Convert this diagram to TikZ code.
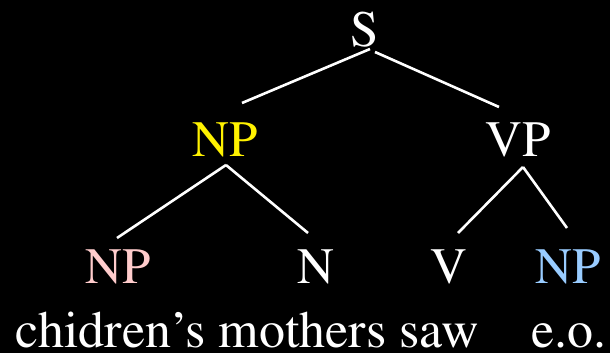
\documentclass[tikz,border=0pt]{standalone}
\usepackage[T1]{fontenc}
\usepackage{mathptmx}
\usepackage{xcolor}
\definecolor{pinkish}{RGB}{255,204,204}
\definecolor{skyblue}{RGB}{153,204,255}

\begin{document}
\begin{tikzpicture}[x=1pt, y=-1pt]
            \tikzstyle{cat} = [inner sep=0pt, anchor=base, text=white, font=\fontsize{51}{51}\selectfont]
            \tikzstyle{word} = [inner sep=0pt, anchor=base west, text=white, font=\fontsize{52}{52}\selectfont]
            \tikzstyle{branch} = [draw=white, line width=2.6pt]

            \fill[black] (0,0) rectangle (610,353);

            % category labels
            \node [cat] (s) at (365,47) {S};
            \node [cat, text=yellow] (np) at (225,156) {NP};
            \node [cat] (vp) at (518,156) {VP};
            \node [cat, text=pinkish] (poss) at (118,283) {NP};
            \node [cat] (n) at (316,283) {N};
            \node [cat] (v) at (449,283) {V};
            \node [cat, text=skyblue] (obj) at (568,283) {NP};

            % words
            \node [word] (words) at (15,347) {chidren's mothers saw};
            \node [word] (eo) at (531,347) {e.o.};

            % branches
            \path [branch] ([shift={(5,2)}]s.base) -- ([shift={(17,-53)}]np.base);
            \path [branch] ([shift={(10,5)}]s.base) -- ([shift={(-19,-49)}]vp.base);
            \path [branch] ([shift={(1,9)}]np.base) -- ([shift={(-1,-45)}]poss.base);
            \path [branch] ([shift={(1,9)}]np.base) -- ([shift={(-8,-50)}]n.base);
            \path [branch] ([shift={(5,11)}]vp.base) -- ([shift={(9,-50)}]v.base);
            \path [branch] ([shift={(5,11)}]vp.base) -- ([shift={(-1,-55)}]obj.base);
        \end{tikzpicture}
\end{document}
